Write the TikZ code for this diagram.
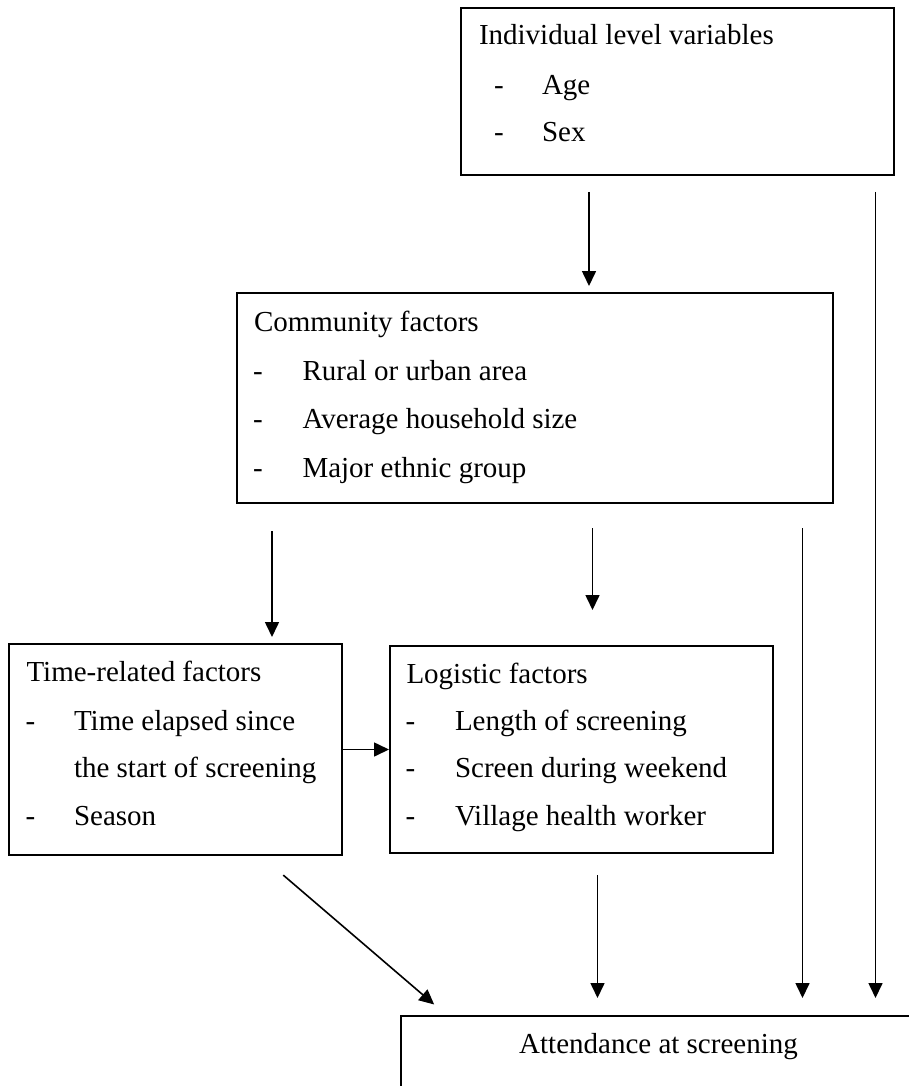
\documentclass[tikz,border=0pt]{standalone}
\usepackage{fontspec}
\setmainfont{Liberation Serif}
\usetikzlibrary{arrows.meta}
\tikzset{
  box/.style={draw, line width=2.2pt, anchor=north west, inner sep=0pt, outer sep=0pt},
  txt/.style={anchor=base west, inner sep=0pt, outer sep=0pt, font=\fontsize{29}{35}\selectfont},
  arr/.style={line width=1.6pt, -{Triangle[length=15pt,width=14pt]}},
}
\begin{document}
\begin{tikzpicture}[x=1pt,y=-1pt]
\useasboundingbox (0,0) rectangle (909,1086);
\fill[white] (0,0) rectangle (909,1086);
\clip (0,0) rectangle (909,1086);

% boxes
\node[box, minimum width=433pt, minimum height=167pt] (ind) at (461,8) {};
\node[box, minimum width=596pt, minimum height=210pt] (com) at (237,293) {};
\node[box, minimum width=333pt, minimum height=211pt] (time) at (9,644) {};
\node[box, minimum width=383pt, minimum height=207pt] (log) at (390,646) {};
\node[box, minimum width=515pt, text height=20pt, text depth=60pt,
      inner ysep=17pt, font=\fontsize{29}{35}\selectfont] (att) at (401,1016)
      {Attendance at screening};

% individual level variables
\node[txt] (indT) at (479,45) {Individual level variables};
\node[txt] (indD1) at (494,95) {-};
\node[txt] (indA) at (542,95) {Age};
\node[txt] (indD2) at (494,141.7) {-};
\node[txt] (indB) at (542,141.7) {Sex};

% community factors
\node[txt] (comT) at (254,331.5) {Community factors};
\node[txt] (comD1) at (253,380) {-};
\node[txt] (comA) at (302.5,380) {Rural or urban area};
\node[txt] (comD2) at (253,428.5) {-};
\node[txt] (comB) at (302.5,428.5) {Average household size};
\node[txt] (comD3) at (253,477) {-};
\node[txt] (comC) at (302.5,477) {Major ethnic group};

% time-related factors
\node[txt] (timeT) at (26.5,681.7) {Time-related factors};
\node[txt] (timeD1) at (25.5,730) {-};
\node[txt] (timeA) at (74,730) {Time elapsed since};
\node[txt] (timeA2) at (74,777) {the start of screening};
\node[txt] (timeD2) at (25.5,825) {-};
\node[txt] (timeB) at (74,825) {Season};

% logistic factors
\node[txt] (logT) at (406.5,683.3) {Logistic factors};
\node[txt] (logD1) at (405.5,730) {-};
\node[txt] (logA) at (455,730) {Length of screening};
\node[txt] (logD2) at (405.5,777) {-};
\node[txt] (logB) at (455,777) {Screen during weekend};
\node[txt] (logD3) at (405.5,825) {-};
\node[txt] (logC) at (455,825) {Village health worker};

% connectors
\draw[arr, shorten <=17pt, shorten >=7pt]
  ([xshift=128pt]ind.south west) -- ([xshift=352pt]com.north west);
\draw[arr, shorten <=17pt, shorten >=18pt]
  ([xshift=414.5pt]ind.south west) -- ([xshift=474.5pt]att.north west);
\draw[arr, shorten <=28pt, shorten >=7pt]
  ([xshift=35pt]com.south west) -- ([xshift=263pt]time.north west);
\draw[arr, shorten <=25pt, shorten >=36pt]
  ([xshift=355.5pt]com.south west) -- ([xshift=202.5pt]log.north west);
\draw[arr, shorten <=25pt, shorten >=18pt]
  ([xshift=565.5pt]com.south west) -- ([xshift=401.5pt]att.north west);
\draw[arr, shorten >=1pt] (time.east) -- (log.west);
\draw[arr, shorten <=22pt, shorten >=18pt]
  ([xshift=207.5pt]log.south west) -- ([xshift=196.5pt]att.north west);
\draw[arr, shorten <=30.9pt, shorten >=17.7pt]
  ([xshift=250.8pt]time.south west) -- ([xshift=46.6pt]att.north west);
\end{tikzpicture}
\end{document}
